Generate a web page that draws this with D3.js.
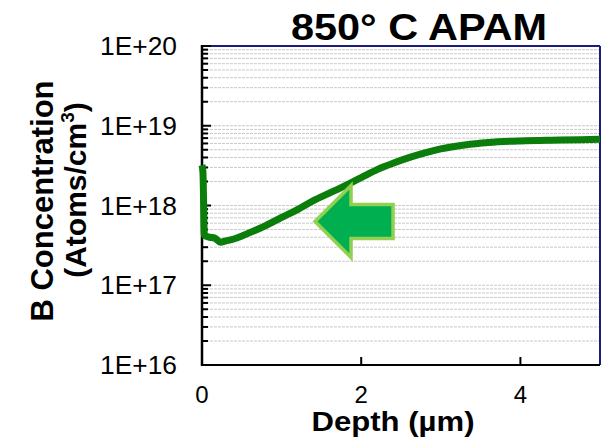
<!DOCTYPE html>
<html>
<head>
<meta charset="utf-8">
<script src="https://cdn.jsdelivr.net/npm/d3@7"></script>
<style>
  body { margin: 0; background: #fff; }
  svg text { font-family: "Liberation Sans", Arial, sans-serif; }
</style>
</head>
<body>
<svg width="616" height="439"></svg>
<script>
// profile
const depth = [0, 0.012, 0.03, 0.1, 0.16, 0.23, 0.3, 0.4, 0.6, 0.8, 1.0, 1.2, 1.4, 1.6, 1.8, 2.0, 2.2, 2.4, 2.6, 2.8, 3.0, 3.3, 3.6, 4.0, 4.5, 5.0];
const conc = [3.2e18, 2.6e18, 4.2e17, 4.0e17, 3.9e17, 3.47e17, 3.6e17, 3.8e17, 4.57e17, 5.6e17, 7.1e17, 8.9e17, 1.15e18, 1.43e18, 1.78e18, 2.24e18, 2.82e18, 3.39e18, 3.98e18, 4.57e18, 5.13e18, 5.75e18, 6.17e18, 6.46e18, 6.61e18, 6.76e18];
const xTicks = [0, 2, 4];
const yTicks = [1e16, 1e17, 1e18, 1e19, 1e20];
const yTickLabels = ["1E+16", "1E+17", "1E+18", "1E+19", "1E+20"];
// arrow annotation (tip / tail in data units)
const arrowTip = [1.42, 6.3e17];
const arrowTail = [2.4, 6.3e17];

const svg = d3.select("svg");
const pLeft = 202, pRight = 600, pTop = 46, pBottom = 365;

const x = d3.scaleLinear().domain([0, 5]).range([pLeft, pRight]);
const y = d3.scaleLog().domain([1e16, 1e20]).range([pBottom, pTop]);

// gridlines at every log tick
const minor = [];
for (let e = 16; e < 20; e++) {
  for (let m = 1; m < 10; m++) minor.push(m * Math.pow(10, e));
}
minor.push(1e20);

svg.append("g").selectAll("line")
  .data(minor.filter(v => v > 1e16 && v < 1e20))
  .enter().append("line")
  .attr("x1", pLeft).attr("x2", pRight)
  .attr("y1", d => y(d)).attr("y2", d => y(d))
  .attr("stroke", "#c8c8c8")
  .attr("stroke-width", 1)
  .attr("stroke-dasharray", "3,1");

// frame: top/right navy, left/bottom black
svg.append("line").attr("x1", pLeft).attr("x2", pRight).attr("y1", pTop).attr("y2", pTop)
  .attr("stroke", "#1c1c80").attr("stroke-width", 2);
svg.append("line").attr("x1", pRight).attr("x2", pRight).attr("y1", pTop).attr("y2", pBottom)
  .attr("stroke", "#1c1c80").attr("stroke-width", 2);

// y ticks inside
svg.append("g").selectAll("line")
  .data(minor)
  .enter().append("line")
  .attr("x1", pLeft)
  .attr("x2", d => (Math.abs(Math.log10(d) - Math.round(Math.log10(d))) < 1e-9) ? pLeft + 9 : pLeft + 6)
  .attr("y1", d => y(d)).attr("y2", d => y(d))
  .attr("stroke", "#000").attr("stroke-width", 2);

// x ticks inside
svg.append("g").selectAll("line")
  .data(xTicks.filter(d => d > 0))
  .enter().append("line")
  .attr("x1", d => x(d)).attr("x2", d => x(d))
  .attr("y1", pBottom).attr("y2", pBottom - 8)
  .attr("stroke", "#000").attr("stroke-width", 2);

svg.append("line").attr("x1", pLeft).attr("x2", pRight).attr("y1", pBottom).attr("y2", pBottom)
  .attr("stroke", "#000").attr("stroke-width", 2);
svg.append("line").attr("x1", pLeft).attr("x2", pLeft).attr("y1", pTop - 1).attr("y2", pBottom + 1)
  .attr("stroke", "#000").attr("stroke-width", 2.5);

// data line
const pts = depth.map((d, i) => [d, conc[i]]);
const line = d3.line().x(d => x(d[0])).y(d => y(d[1])).curve(d3.curveMonotoneX);
svg.append("path")
  .datum(pts)
  .attr("d", line)
  .attr("fill", "none")
  .attr("stroke", "#0b7d0b")
  .attr("stroke-width", 7)
  .attr("stroke-linejoin", "round");

// block arrow pointing left
const tx = x(arrowTip[0]), ty = y(arrowTip[1]);
const ex = x(arrowTail[0]);
const headW = 36, headH = 36, shaftH = 17;
const arrowPts = [
  [tx, ty],
  [tx + headW, ty - headH],
  [tx + headW, ty - shaftH],
  [ex, ty - shaftH],
  [ex, ty + shaftH],
  [tx + headW, ty + shaftH],
  [tx + headW, ty + headH]
];
svg.append("polygon")
  .attr("points", arrowPts.map(p => p.join(",")).join(" "))
  .attr("fill", "#00b050")
  .attr("stroke", "#92d050")
  .attr("stroke-width", 3.5);

// tick labels
svg.append("g").selectAll("text")
  .data(yTicks)
  .enter().append("text")
  .attr("x", 177)
  .attr("y", d => y(d))
  .attr("dy", "0.36em")
  .attr("text-anchor", "end")
  .attr("font-size", 25)
  .attr("textLength", 77).attr("lengthAdjust", "spacingAndGlyphs")
  .text((d, i) => yTickLabels[i]);

svg.append("g").selectAll("text")
  .data(xTicks)
  .enter().append("text")
  .attr("x", d => x(d))
  .attr("y", 403)
  .attr("text-anchor", "middle")
  .attr("font-size", 24)
  .text(d => d);

// titles
svg.append("text")
  .attr("x", 419).attr("y", 40)
  .attr("text-anchor", "middle")
  .attr("font-size", 37).attr("font-weight", "bold")
  .attr("textLength", 256).attr("lengthAdjust", "spacingAndGlyphs")
  .text("850° C APAM");

svg.append("text")
  .attr("x", 393).attr("y", 431)
  .attr("text-anchor", "middle")
  .attr("font-size", 27).attr("font-weight", "bold")
  .attr("textLength", 163).attr("lengthAdjust", "spacingAndGlyphs")
  .text("Depth (µm)");

const yl = svg.append("text")
  .attr("transform", "translate(53,201) rotate(-90)")
  .attr("text-anchor", "middle")
  .attr("font-size", 31).attr("font-weight", "bold");
yl.append("tspan").attr("x", 0).attr("y", 0).text("B Concentration");
const yl2 = svg.append("text")
  .attr("transform", "translate(86,190) rotate(-90)")
  .attr("text-anchor", "middle")
  .attr("font-size", 30).attr("font-weight", "bold");
yl2.append("tspan").text("(Atoms/cm");
yl2.append("tspan").attr("font-size", 19).attr("dy", -12).text("3");
yl2.append("tspan").attr("dy", 12).text(")");
</script>
</body>
</html>
